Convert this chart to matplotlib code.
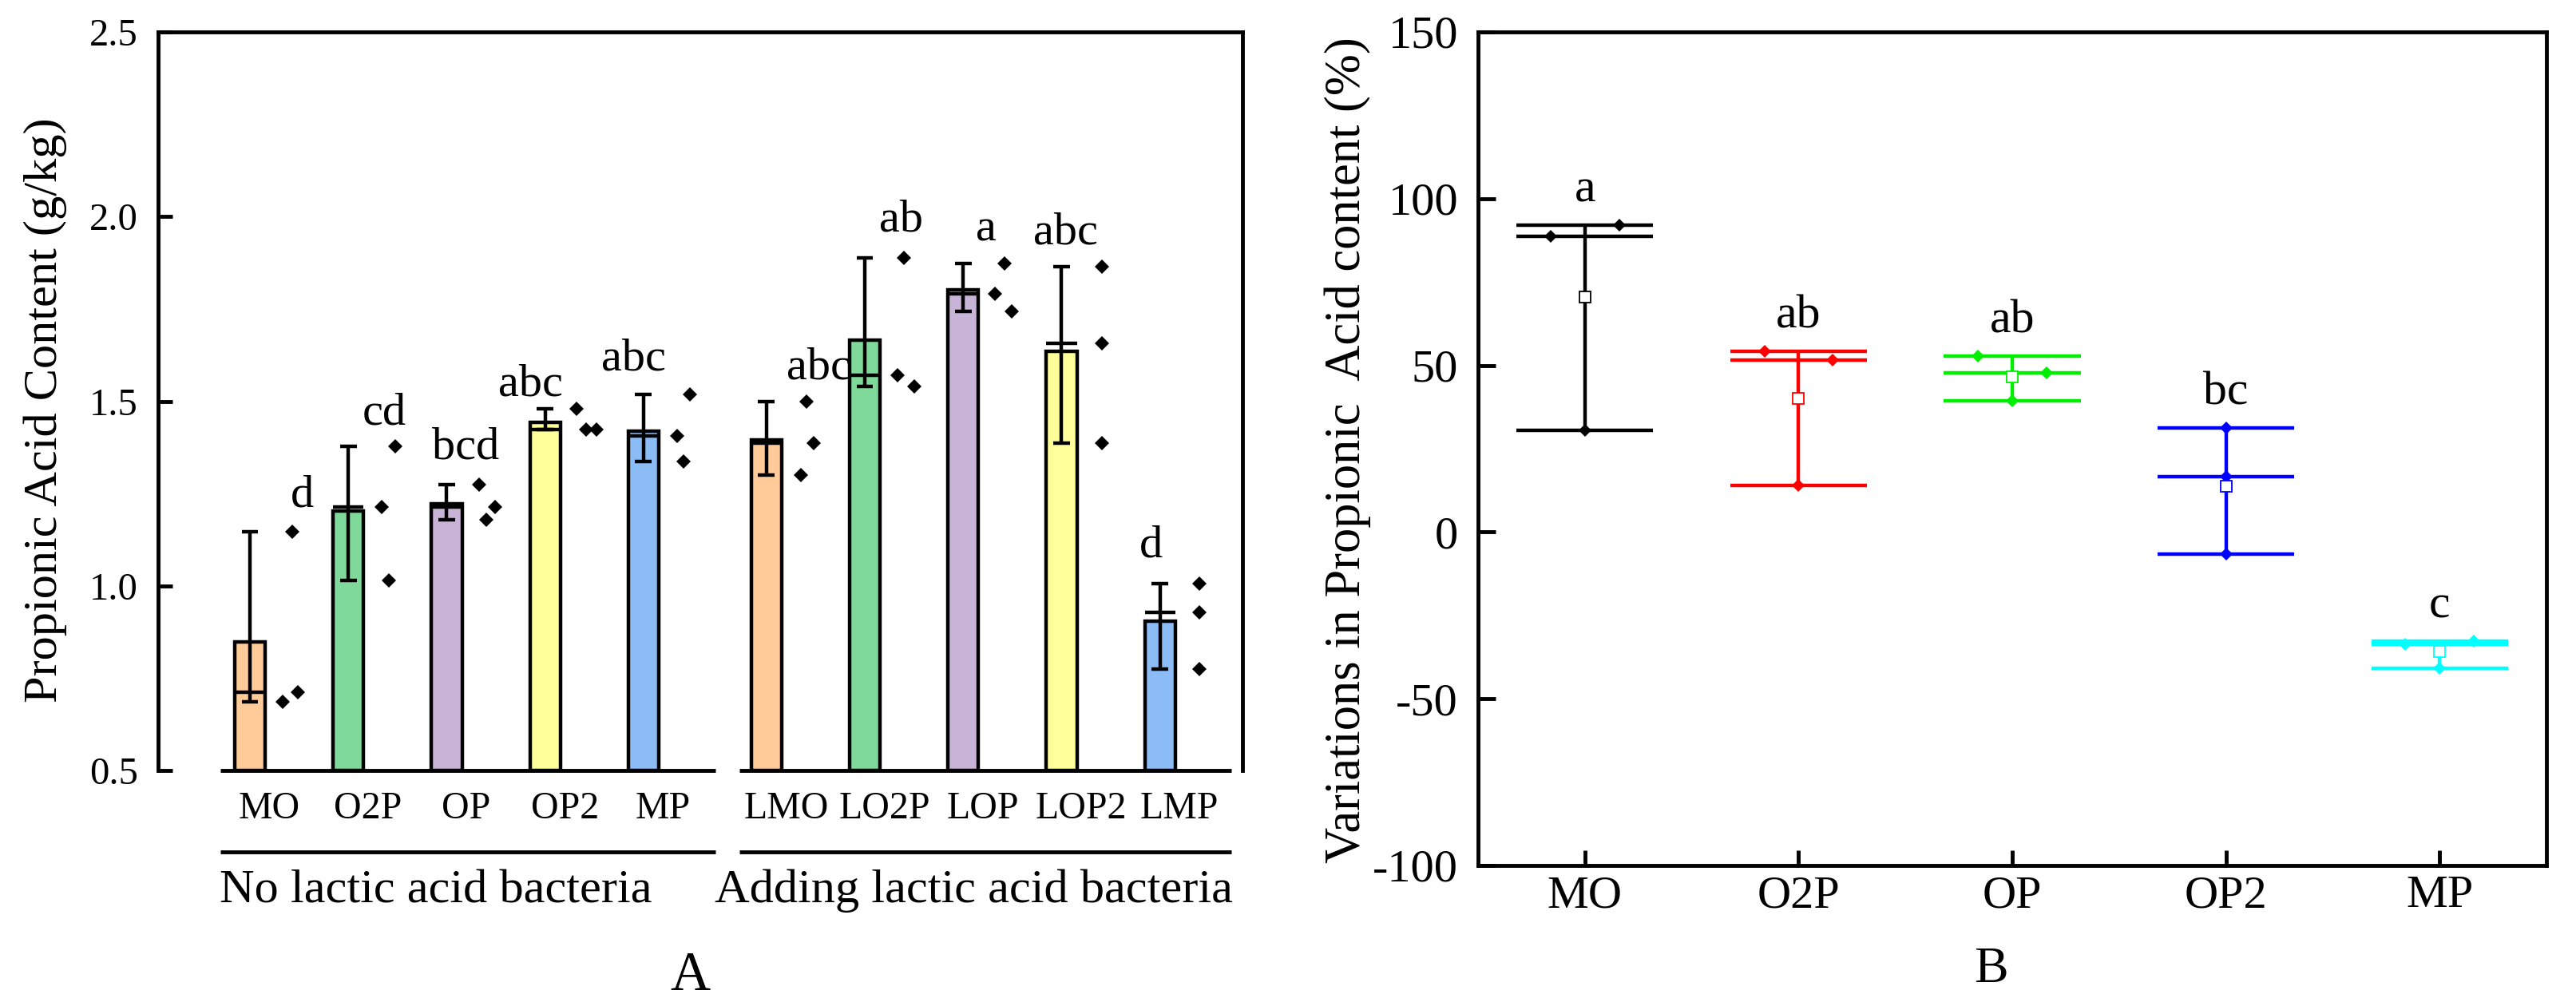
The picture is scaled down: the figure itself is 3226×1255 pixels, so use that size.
import numpy as np
import matplotlib
matplotlib.use("Agg")
import matplotlib.pyplot as plt

plt.rcParams["font.family"] = ["Liberation Serif", "DejaVu Serif"]

# ---------------------------------------------------------------- panel A data
groups_a = ["MO", "O2P", "OP", "OP2", "MP", "LMO", "LO2P", "LOP", "LOP2", "LMP"]
points_a = [
    [1.146, 0.712, 0.686],
    [1.378, 1.213, 1.015],
    [1.274, 1.214, 1.178],
    [1.480, 1.423, 1.423],
    [1.518, 1.405, 1.336],
    [1.500, 1.387, 1.301],
    [1.889, 1.570, 1.539],
    [1.872, 1.791, 1.743],
    [1.864, 1.656, 1.387],
    [1.006, 0.929, 0.775],
]
letters_a = ["d", "cd", "bcd", "abc", "abc", "abc", "ab", "a", "abc", "d"]
group_names = ["No lactic acid bacteria", "Adding lactic acid bacteria"]

# ---------------------------------------------------------------- panel B data
groups_b = ["MO", "O2P", "OP", "OP2", "MP"]
points_b = [
    [88.8, 92.0, 30.4],
    [54.3, 51.7, 13.9],
    [52.8, 47.8, 39.4],
    [31.3, 16.6, -6.6],
    [-33.7, -32.6, -40.9],
]
letters_b = ["a", "ab", "ab", "bc", "c"]

# ---------------------------------------------------------------- layout / style
pos_a = np.array([1, 2, 3, 4, 5, 6.25, 7.25, 8.25, 9.25, 10.25])
bar_colors = ["#FFCC99", "#7FD99A", "#C8B4D7", "#FFFF99", "#8BBCF5"] * 2
jitter_a = [
    [0.43, 0.49, 0.33], [0.48, 0.34, 0.41], [0.33, 0.49, 0.40],
    [0.32, 0.42, 0.52], [0.47, 0.34, 0.41], [0.41, 0.48, 0.35],
    [0.40, 0.33, 0.50], [0.42, 0.32, 0.49], [0.41, 0.41, 0.41],
    [0.40, 0.40, 0.40],
]
label_dx = [0.53, 0.37, 0.19, -0.15, -0.10, 0.53, 0.37, 0.23, 0.04, -0.09]
label_dy = [0.068, 0.059, 0.070, 0.035, 0.067, 0.061, 0.072, 0.063, 0.061, 0.072]
colors_b = ["#000000", "#FF0000", "#00EE00", "#0000FF", "#00FFFF"]
jitter_b = [[-0.16, 0.16, 0], [-0.16, 0.16, 0], [-0.16, 0.16, 0],
            [0, 0, 0], [-0.16, 0.16, 0]]

LW = 3.2
SPW = 3.5
W, H = 3226, 1255
fig = plt.figure(figsize=(W / 100, H / 100), dpi=100)

# ================================================================ panel A
ax = fig.add_axes([198 / W, 1 - 965 / H, (1556 - 198) / W, (965 - 40) / H])
bw = 0.31
for i, (x, pts) in enumerate(zip(pos_a, points_a)):
    pts = np.array(pts)
    m, med, lo, hi = pts.mean(), np.median(pts), pts.min(), pts.max()
    ax.bar(x, m - 0.5, bw, bottom=0.5, color=bar_colors[i], edgecolor="k",
           linewidth=LW, zorder=2)
    ax.vlines(x, lo, hi, color="k", lw=LW, zorder=3)
    ax.hlines([lo, hi], x - 0.085, x + 0.085, color="k", lw=LW, zorder=3)
    ax.hlines(med, x - bw / 2, x + bw / 2, color="k", lw=LW, zorder=3)
    ax.plot(x + np.array(jitter_a[i]), pts, "D", color="k", ms=9.2, mew=0,
            zorder=4)
    ax.text(x + label_dx[i], hi + label_dy[i], letters_a[i], fontsize=42,
            ha="center", va="baseline")

ax.set_xlim(0.0666, 11.089)
ax.set_ylim(0.5, 2.5)
ax.set_yticks([0.5, 1.0, 1.5, 2.0, 2.5])
ax.set_yticklabels(["0.5", "1.0", "1.5", "2.0", "2.5"], fontsize=35)
ax.tick_params(axis="y", direction="in", length=13, width=SPW, pad=18)
ax.set_xticks(pos_a + 0.2)
ax.set_xticklabels(groups_a, fontsize=34.5)
ax.tick_params(axis="x", length=0, pad=19)
for s in ("left", "right", "top"):
    ax.spines[s].set_linewidth(SPW)
ax.spines["bottom"].set_visible(False)

tr = ax.get_xaxis_transform()
for x0, x1 in [(0.70, 5.73), (5.975, 10.975)]:
    ax.plot([x0, x1], [0.5, 0.5], color="k", lw=SPW, clip_on=False,
            solid_capstyle="butt", zorder=5)
    ax.plot([x0, x1], [-0.1103, -0.1103], color="k", lw=SPW, clip_on=False,
            solid_capstyle="butt", transform=tr)
ax.text(2.89, -0.1784, group_names[0], transform=tr, fontsize=43.5,
        ha="center", va="baseline")
ax.text(8.36, -0.1784, group_names[1], transform=tr, fontsize=43.5,
        ha="center", va="baseline")

fig.text(56.5 / W, 1 - 514 / H, "Propionic Acid Content (g/kg)", rotation=90,
         fontsize=43.5, ha="center", va="center")
fig.text(864 / W, 1 - 1240 / H, "A", fontsize=50, ha="center", va="baseline")

# ================================================================ panel B
bx = fig.add_axes([1851 / W, 1 - 1084 / H, (3189 - 1851) / W, (1084 - 40) / H])
xb = np.arange(1, len(groups_b) + 1)
for i, (x, pts) in enumerate(zip(xb, points_b)):
    pts = np.array(pts)
    c = colors_b[i]
    m, med, lo, hi = pts.mean(), np.median(pts), pts.min(), pts.max()
    bx.hlines([lo, med, hi], x - 0.32, x + 0.32, color=c, lw=LW, zorder=2)
    bx.vlines(x, lo, hi, color=c, lw=LW, zorder=2)
    bx.plot(x + np.array(jitter_b[i]), pts, "D", color=c, ms=8, mew=0,
            zorder=3)
    bx.plot(x, m, "s", mfc="white", mec=c, ms=10, mew=1.3, zorder=4)
    bx.text(x, hi + 7, letters_b[i], fontsize=43, ha="center", va="baseline")

bx.set_xlim(0.5, 5.5)
bx.set_ylim(-100, 150)
bx.set_yticks([-100, -50, 0, 50, 100, 150])
bx.set_yticklabels(["-100", "-50", "0", "50", "100", "150"], fontsize=42)
bx.set_xticks(xb)
bx.set_xticklabels(groups_b, fontsize=42)
bx.tick_params(axis="y", direction="in", length=16, width=SPW, pad=18)
bx.tick_params(axis="x", direction="in", length=14, width=SPW, pad=9)
for s in bx.spines.values():
    s.set_linewidth(SPW)

fig.text(1688 / W, 1 - 564 / H, "Variations in Propionic  Acid content (%)",
         rotation=90, fontsize=45, ha="center", va="center")
fig.text(2493 / W, 1 - 1230 / H, "B", fontsize=46, ha="center", va="baseline")

fig.savefig("out.png", dpi=100)
